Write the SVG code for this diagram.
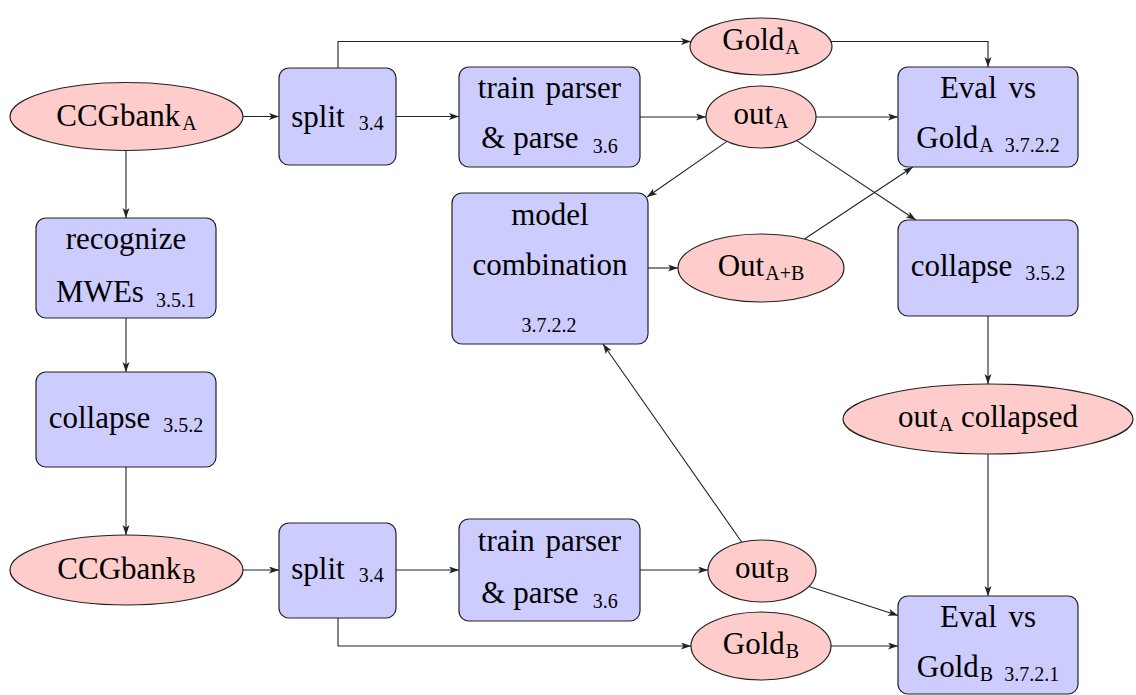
<svg xmlns="http://www.w3.org/2000/svg" width="1136" height="695" viewBox="0 0 1136 695">
<style>
.box{fill:#CCCCFF;stroke:#222;stroke-width:1.2}
.ell{fill:#FFCCCC;stroke:#222;stroke-width:1.2}
.t{font-family:'Liberation Serif','Times New Roman',serif;font-size:31px;fill:#000;text-anchor:middle}
.s{font-size:20px}
.e{fill:none;stroke:#222;stroke-width:1.1;marker-end:url(#arr)}
</style>
<defs>
<marker id="arr" markerUnits="userSpaceOnUse" markerWidth="11" markerHeight="8" refX="10" refY="3.5" orient="auto">
<path d="M0,0 L10,3.5 L0,7 L2.5,3.5 z" fill="#222"/>
</marker>
</defs>
<rect width="1136" height="695" fill="#fff"/>
<g id="connectors">
<path class="e" d="M243,116.5 H279"/>
<path class="e" d="M396,116.5 H459"/>
<path class="e" d="M640,117 H706"/>
<path class="e" d="M816,117 H898"/>
<path class="e" d="M338,68 V41.5 H691"/>
<path class="e" d="M831,41.5 H988 V67"/>
<path class="e" d="M126,150 V218"/>
<path class="e" d="M126,318 V372"/>
<path class="e" d="M126,467 V535"/>
<path class="e" d="M243,570 H279"/>
<path class="e" d="M396,570 H459"/>
<path class="e" d="M640,570 H708"/>
<path class="e" d="M338,618 V646 H691"/>
<path class="e" d="M831,646 H898"/>
<path class="e" d="M808.9,586.4 L898,615.5"/>
<path class="e" d="M741.8,542.2 L603,344"/>
<path class="e" d="M727,141.4 L647,197"/>
<path class="e" d="M796.6,140.6 L915.9,220"/>
<path class="e" d="M804.5,239 L912.8,167"/>
<path class="e" d="M648,268 H678"/>
<path class="e" d="M988,316 V384"/>
<path class="e" d="M988,454 V596"/>
</g>
<g id="ccgbankA"><ellipse class="ell" cx="126.5" cy="116.5" rx="116.5" ry="34"/><text class="t" x="126.5" y="126">CCGbank<tspan class="s" dx="2" dy="4">A</tspan></text></g>
<g id="splitA"><rect class="box" x="279" y="68" width="117" height="97" rx="10"/><text class="t" x="337.5" y="127">split<tspan class="s" dx="14" dy="3">3.4</tspan></text></g>
<g id="trainA"><rect class="box" x="459" y="67" width="181" height="100" rx="10"/><text class="t" x="549.5" y="98" word-spacing="3">train parser</text><text class="t" x="549.5" y="148">&amp; parse<tspan class="s" dx="14" dy="5">3.6</tspan></text></g>
<g id="goldA"><ellipse class="ell" cx="761" cy="46.5" rx="71" ry="28.5"/><text class="t" x="761" y="50">Gold<tspan class="s" dx="1" dy="4">A</tspan></text></g>
<g id="outA"><ellipse class="ell" cx="761" cy="117" rx="55" ry="31"/><text class="t" x="761" y="124">out<tspan class="s" dx="1" dy="4">A</tspan></text></g>
<g id="evalA"><rect class="box" x="898" y="67" width="180" height="100" rx="10"/><text class="t" x="988" y="98" word-spacing="4">Eval vs</text><text class="t" x="988" y="148">Gold<tspan class="s" dx="1" dy="4">A</tspan><tspan class="s" dx="11" dy="0">3.7.2.2</tspan></text></g>
<g id="recognize"><rect class="box" x="36" y="218" width="180" height="100" rx="10"/><text class="t" x="126" y="249">recognize</text><text class="t" x="126" y="302">MWEs<tspan class="s" dx="12" dy="5">3.5.1</tspan></text></g>
<g id="model"><rect class="box" x="452" y="193" width="196" height="151" rx="10"/><text class="t" x="550" y="225">model</text><text class="t" x="550" y="275">combination</text><text class="t s" x="549" y="332">3.7.2.2</text></g>
<g id="outAB"><ellipse class="ell" cx="761" cy="268" rx="83" ry="34"/><text class="t" x="761" y="276">Out<tspan class="s" dx="1" dy="4">A+B</tspan></text></g>
<g id="collapseR"><rect class="box" x="898" y="220" width="180" height="96" rx="10"/><text class="t" x="988" y="276">collapse<tspan class="s" dx="13" dy="4">3.5.2</tspan></text></g>
<g id="outAcollapsed"><ellipse class="ell" cx="988" cy="419" rx="145" ry="35"/><text class="t" x="988" y="427">out<tspan class="s" dx="1" dy="4">A</tspan><tspan dx="0" dy="-4"> collapsed</tspan></text></g>
<g id="collapseL"><rect class="box" x="36" y="372" width="180" height="95" rx="10"/><text class="t" x="126" y="428">collapse<tspan class="s" dx="13" dy="4">3.5.2</tspan></text></g>
<g id="ccgbankB"><ellipse class="ell" cx="126.5" cy="570" rx="116.5" ry="35"/><text class="t" x="126.5" y="579">CCGbank<tspan class="s" dx="1" dy="4">B</tspan></text></g>
<g id="splitB"><rect class="box" x="279" y="523" width="117" height="95" rx="10"/><text class="t" x="337.5" y="579">split<tspan class="s" dx="14" dy="3">3.4</tspan></text></g>
<g id="trainB"><rect class="box" x="459" y="519" width="181" height="102" rx="10"/><text class="t" x="549.5" y="551" word-spacing="3">train parser</text><text class="t" x="549.5" y="603">&amp; parse<tspan class="s" dx="14" dy="5">3.6</tspan></text></g>
<g id="outB"><ellipse class="ell" cx="762" cy="571" rx="54" ry="31"/><text class="t" x="762" y="578">out<tspan class="s" dx="1" dy="4">B</tspan></text></g>
<g id="goldB"><ellipse class="ell" cx="761" cy="646" rx="70" ry="34"/><text class="t" x="761" y="654">Gold<tspan class="s" dx="1" dy="4">B</tspan></text></g>
<g id="evalB"><rect class="box" x="898" y="596" width="180" height="98" rx="10"/><text class="t" x="988" y="627" word-spacing="4">Eval vs</text><text class="t" x="988" y="677">Gold<tspan class="s" dx="1" dy="4">B</tspan><tspan class="s" dx="11" dy="0">3.7.2.1</tspan></text></g>
</svg>
